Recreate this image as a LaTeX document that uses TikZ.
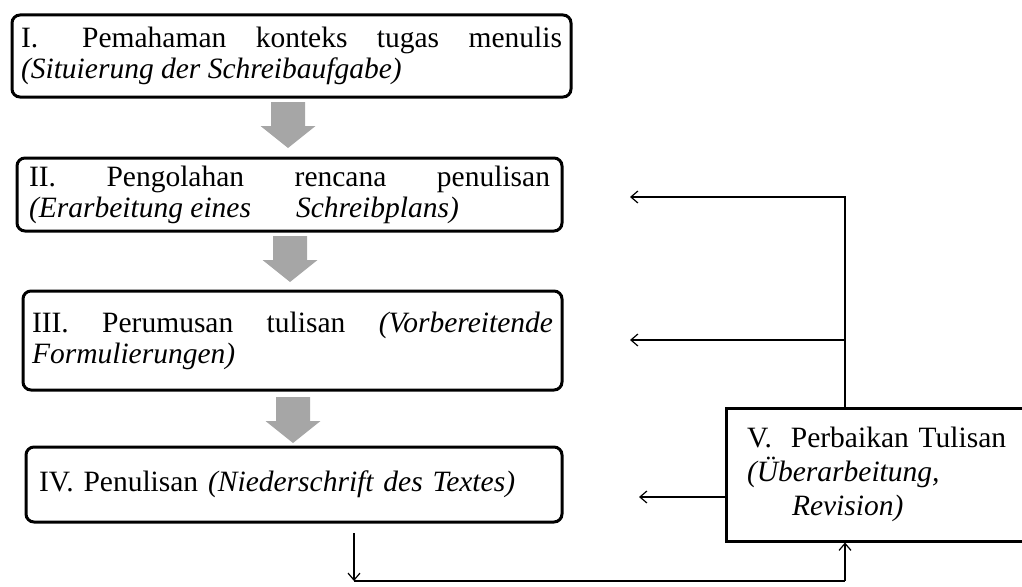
\documentclass[tikz,border=0pt]{standalone}
\usepackage{fontspec}
\setmainfont{Liberation Serif}
\usetikzlibrary{arrows.meta}

\begin{document}
\begin{tikzpicture}[x=1pt,y=-1pt,
    stage/.style={draw,rounded corners=8pt,line width=3pt,align=justify,
      font=\fontsize{29.5}{31}\selectfont,inner ysep=0pt},
    revbox/.style={draw,line width=3pt,align=left,
      font=\fontsize{29.5}{34}\selectfont,inner ysep=0pt},
    link/.style={line width=1.2pt,-{Straight Barb[length=7pt,width=12pt]}},
    flow/.style={fill=gray!70}]
    \clip (0,0) rectangle (1022,586);

    % the four stages
    \node[stage,text width=541pt,inner xsep=9pt,minimum height=82pt] (I) at (291.5,56)
      {I.\hspace{44pt}Pemahaman konteks tugas menulis\linebreak
       \textit{(Situierung der Schreibaufgabe)}};
    \node[stage,text width=521pt,inner xsep=12pt,minimum height=73pt] (II) at (289.5,194.5)
      {II. Pengolahan rencana penulisan\linebreak
       \textit{(Erarbeitung eines\hspace{45pt}Schreibplans)}};
    \node[stage,text width=521pt,inner xsep=9pt,minimum height=99pt] (III) at (292.5,340.5)
      {III. Perumusan tulisan \textit{(Vorbereitende}\linebreak
       \textit{Formulierungen)}};
    \node[stage,align=left,text width=510pt,inner xsep=13pt,minimum height=75pt] (IV) at (294,484.5)
      {IV. Penulisan \textit{(Niederschrift des Textes)}};

    % revision box, runs off the right edge
    \node[revbox,text width=272pt,inner xsep=21pt,minimum height=133pt] (V) at (883,474.5)
      {V.\hspace{19pt}Perbaikan Tulisan\\
       \textit{(Überarbeitung,}\\
       \hspace*{45pt}\textit{Revision)}};

    % grey block arrows between stages
    \foreach \ax/\ay in {288/102,290/236,293/397}
      \fill[flow] (\ax-17,\ay) -- (\ax+17,\ay) -- (\ax+17,\ay+24) -- (\ax+27.5,\ay+24)
        -- (\ax,\ay+46) -- (\ax-27.5,\ay+24) -- (\ax-17,\ay+24) -- cycle;

    % feedback lines
    \coordinate (split) at (845,197);
    \coordinate (tipII) at (630,197);
    \coordinate (branchIII) at (845,340);
    \coordinate (tipIII) at (630,340);
    \coordinate (tipIV) at (639,497);
    \coordinate (dropT) at (354,533);
    \coordinate (dropB) at (354,581);
    \coordinate (riseB) at (845,581);

    \draw[link] (V.north -| split) -- (split) -- (tipII);
    \draw[link] (branchIII) -- (tipIII);
    \draw[link] (V.west |- tipIV) -- (tipIV);
    \draw[link] (dropT) -- (dropB);
    \draw[line width=1.2pt] (dropB) -- (riseB);
    \draw[link] (riseB) -- (V.south -| riseB);
\end{tikzpicture}
\end{document}
